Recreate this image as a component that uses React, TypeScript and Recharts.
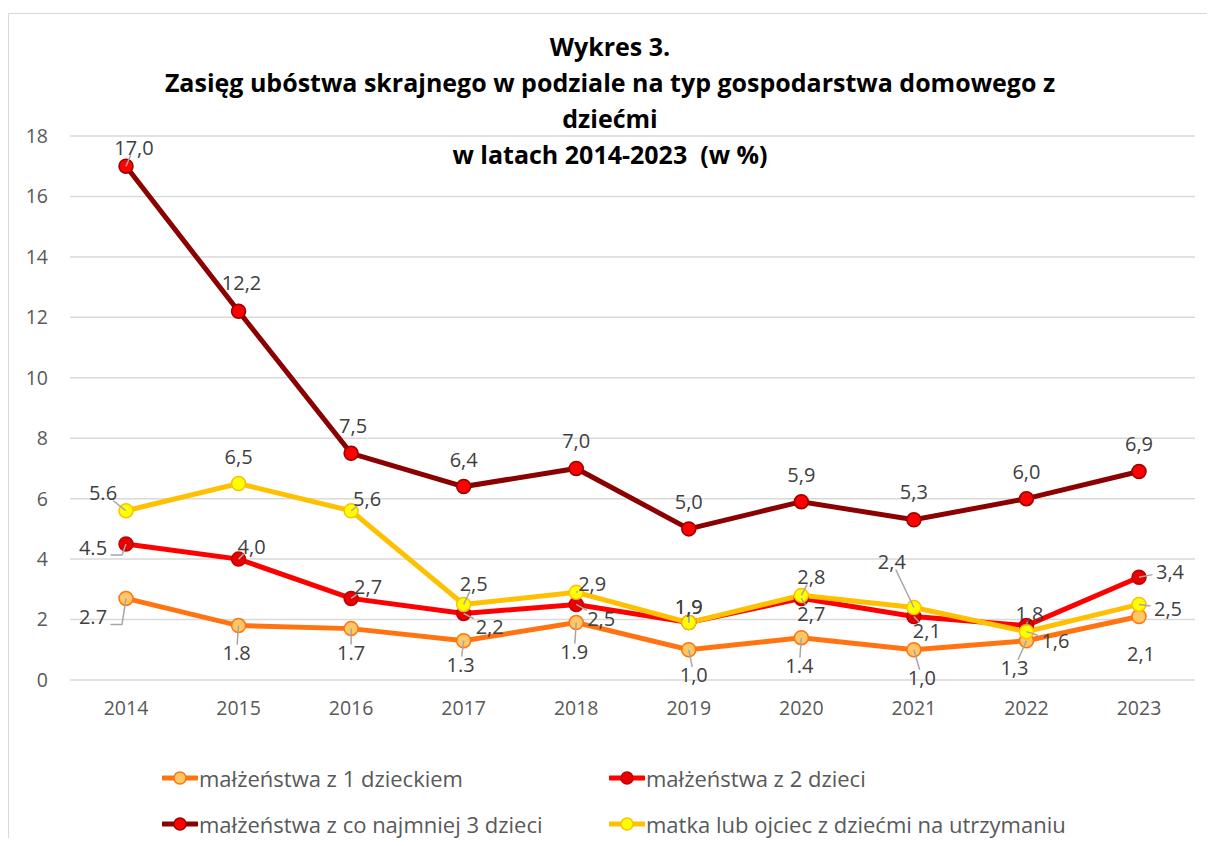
import React from 'react'
import { LineChart, Line, XAxis, YAxis, CartesianGrid } from 'recharts'

// values (in %)
const years = ['2014', '2015', '2016', '2017', '2018', '2019', '2020', '2021', '2022', '2023']
const oneChild = [2.7, 1.8, 1.7, 1.3, 1.9, 1.0, 1.4, 1.0, 1.3, 2.1]
const twoChildren = [4.5, 4.0, 2.7, 2.2, 2.5, 1.9, 2.7, 2.1, 1.8, 3.4]
const threePlus = [17.0, 12.2, 7.5, 6.4, 7.0, 5.0, 5.9, 5.3, 6.0, 6.9]
const singleParent = [5.6, 6.5, 5.6, 2.5, 2.9, 1.9, 2.8, 2.4, 1.6, 2.5]

// label texts as printed (the source mixes dots and commas)
const oneChildText = ['2.7', '1.8', '1.7', '1.3', '1.9', '1,0', '1.4', '1,0', '1,3', '2,1']
const twoChildrenText = ['4.5', '4,0', '2,7', '2,2', '2,5', '1,9', '2,7', '2,1', '1,8', '3,4']
const threePlusText = ['17,0', '12,2', '7,5', '6,4', '7,0', '5,0', '5,9', '5,3', '6,0', '6,9']
const singleParentText = ['5.6', '6,5', '5,6', '2,5', '2,9', '1,9', '2,8', '2,4', '1,6', '2,5']

const yTicks = [0, 2, 4, 6, 8, 10, 12, 14, 16, 18]

const seriesNames = [
  'małżeństwa z 1 dzieckiem',
  'małżeństwa z 2 dzieci',
  'małżeństwa z co najmniej 3 dzieci',
  'matka lub ojciec z dziećmi na utrzymaniu',
]

const data = years.map((year, i) => ({
  year,
  s1: oneChild[i],
  s2: twoChildren[i],
  s3: threePlus[i],
  s4: singleParent[i],
}))

// label placement relative to the point: [dx, dy, leader] (0 none, 1 straight, 2 elbow)
type Off = [number, number, number]
const offOne: Off[] = [
  [-33, 18, 2], [-2, 27, 1], [0, 24, 1], [-3, 24, 1], [-2, 29, 1],
  [5, 25, 1], [-2, 28, 1], [8, 28, 1], [-12, 27, 1], [2, 37, 0],
]
const offTwo: Off[] = [
  [-33, 3, 2], [13, -13, 1], [17, -12, 1], [26, 13, 1], [25, 14, 1],
  [0, -16, 1], [10, 15, 1], [13, 14, 1], [3, -12, 1], [31, -6, 1],
]
const offThree: Off[] = [
  [8, -19, 1], [3, -29, 0], [2, -28, 0], [0, -27, 0], [0, -28, 0],
  [0, -27, 0], [0, -27, 0], [0, -28, 0], [0, -27, 0], [0, -28, 0],
]
const offFour: Off[] = [
  [-23, -18, 1], [0, -27, 0], [16, -12, 1], [10, -21, 1], [16, -9, 1],
  [0, -16, 1], [10, -19, 1], [-22, -46, 1], [29, 9, 1], [29, 4, 1],
]

const font = "'Segoe UI', 'Open Sans', sans-serif"
const colors = {
  s1: { line: '#FF7410', fill: '#FFC766', stroke: '#FF7410' },
  s2: { line: '#FF0000', fill: '#E60000', stroke: '#C00000' },
  s3: { line: '#8B0000', fill: '#FF0000', stroke: '#990000' },
  s4: { line: '#FFC000', fill: '#FFFF00', stroke: '#FFC000' },
}

function makeLabel(texts: string[], offs: Off[]) {
  return (props: any) => {
    const { x, y, index } = props
    if (x == null || y == null) return null
    const [dx, dy, leader] = offs[index]
    const cx = x + dx
    const cy = y + dy
    const text = texts[index]
    const hw = text.length * 5.5 + 1
    const hh = 8
    let lead: React.ReactNode = null
    if (leader === 1) {
      const t = Math.min(hw / Math.max(Math.abs(dx), 0.001), hh / Math.max(Math.abs(dy), 0.001))
      if (t < 1) {
        lead = <line x1={x} y1={y} x2={cx - dx * t} y2={cy - dy * t} stroke="#a6a6a6" strokeWidth={1.5} />
      }
    } else if (leader === 2) {
      lead = (
        <polyline
          points={`${x},${y} ${x - 4},${cy + 8} ${cx + hw},${cy + 8}`}
          fill="none"
          stroke="#a6a6a6"
          strokeWidth={1.5}
        />
      )
    }
    return (
      <g>
        {lead}
        <text
          x={cx}
          y={cy}
          textAnchor="middle"
          dominantBaseline="central"
          fontSize={20}
          fontFamily={font}
          fill="#404040"
        >
          {text}
        </text>
      </g>
    )
  }
}

function LegendIcon({ c }: { c: { line: string; fill: string; stroke: string } }) {
  return (
    <svg width={36} height={16} style={{ display: 'block' }}>
      <line x1={1} y1={8} x2={35} y2={8} stroke={c.line} strokeWidth={5} strokeLinecap="round" />
      <circle cx={18} cy={8} r={6} fill={c.fill} stroke={c.stroke} strokeWidth={1.5} />
    </svg>
  )
}

export default function App() {
  const legendItems = [
    { name: seriesNames[0], c: colors.s1, left: 153, top: 750 },
    { name: seriesNames[1], c: colors.s2, left: 600, top: 750 },
    { name: seriesNames[2], c: colors.s3, left: 153, top: 796 },
    { name: seriesNames[3], c: colors.s4, left: 600, top: 796 },
  ]

  return (
    <div style={{ position: 'relative', width: 1199, height: 830, overflow: 'hidden', fontFamily: font }}>
      <div
        style={{
          position: 'absolute',
          top: 5,
          left: 0,
          width: 1260,
          height: 900,
          border: '1px solid #d9d9d9',
          background: '#fff',
        }}
      >
        <LineChart
          width={1198}
          height={824}
          data={data}
          margin={{ top: 122, right: 12, left: 0, bottom: 128 }}
        >
          <CartesianGrid vertical={false} stroke="#d9d9d9" strokeWidth={1.5} />
          <XAxis
            dataKey="year"
            axisLine={false}
            tickLine={false}
            tickSize={0}
            tickMargin={21}
            padding={{ left: 56, right: 56 }}
            height={30}
            tick={{ fill: '#595959', fontSize: 19.5, fontFamily: font }}
          />
          <YAxis
            domain={[0, 18]}
            ticks={yTicks}
            interval={0}
            width={61}
            axisLine={false}
            tickLine={false}
            tickSize={0}
            tickMargin={22}
            tick={{ fill: '#595959', fontSize: 19.5, fontFamily: font }}
          />
          <Line
            dataKey="s1"
            name={seriesNames[0]}
            stroke={colors.s1.line}
            strokeWidth={5}
            dot={{ r: 7, fill: colors.s1.fill, stroke: colors.s1.stroke, strokeWidth: 1.5 }}
            label={makeLabel(oneChildText, offOne)}
            isAnimationActive={false}
          />
          <Line
            dataKey="s2"
            name={seriesNames[1]}
            stroke={colors.s2.line}
            strokeWidth={5}
            dot={{ r: 7, fill: colors.s2.fill, stroke: colors.s2.stroke, strokeWidth: 1.5 }}
            label={makeLabel(twoChildrenText, offTwo)}
            isAnimationActive={false}
          />
          <Line
            dataKey="s3"
            name={seriesNames[2]}
            stroke={colors.s3.line}
            strokeWidth={5}
            dot={{ r: 7, fill: colors.s3.fill, stroke: colors.s3.stroke, strokeWidth: 1.5 }}
            label={makeLabel(threePlusText, offThree)}
            isAnimationActive={false}
          />
          <Line
            dataKey="s4"
            name={seriesNames[3]}
            stroke={colors.s4.line}
            strokeWidth={5}
            dot={{ r: 7, fill: colors.s4.fill, stroke: colors.s4.stroke, strokeWidth: 1.5 }}
            label={makeLabel(singleParentText, offFour)}
            isAnimationActive={false}
          />
        </LineChart>

        {/* title sits over the plot like in the original */}
        <div
          style={{
            position: 'absolute',
            top: 14,
            left: 0,
            width: 1202,
            textAlign: 'center',
            fontWeight: 700,
            fontSize: 25,
            lineHeight: '36px',
            color: '#000',
            pointerEvents: 'none',
          }}
        >
          Wykres 3.
          <br />
          Zasięg ubóstwa skrajnego w podziale na typ gospodarstwa domowego z
          <br />
          dziećmi
          <br />
          w latach 2014-2023&nbsp; (w %)
        </div>

        {legendItems.map((it) => (
          <div
            key={it.name}
            style={{
              position: 'absolute',
              left: it.left,
              top: it.top,
              height: 28,
              display: 'flex',
              alignItems: 'center',
              fontSize: 22,
              color: '#595959',
              whiteSpace: 'nowrap',
            }}
          >
            <LegendIcon c={it.c} />
            <span style={{ marginLeft: 1 }}>{it.name}</span>
          </div>
        ))}
      </div>
    </div>
  )
}
